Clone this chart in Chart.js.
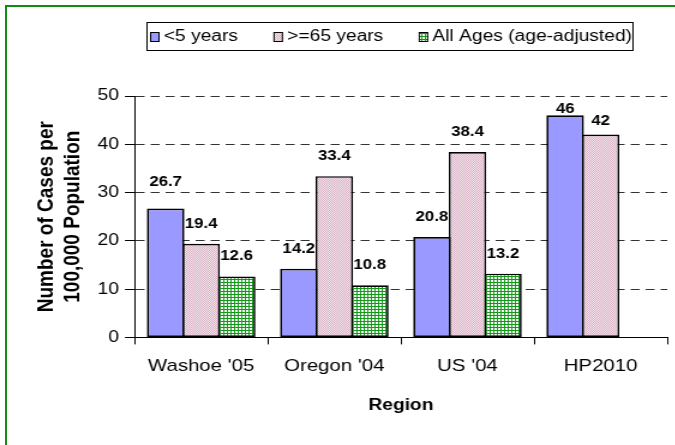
<!DOCTYPE html>
<html>
<head>
<meta charset="utf-8">
<script src="https://cdn.jsdelivr.net/npm/chart.js@4"></script>
<style>
  html, body { margin: 0; padding: 0; background: #fff; overflow: hidden; }
  /* original chart is rendered a little wide, so stretch the canvas sideways */
  #wrap { position: absolute; left: 0; top: 0; width: 562px; height: 445px; transform: scaleX(1.2); transform-origin: 0 0; }
  #frame { position: absolute; left: 5px; top: 5px; width: 720px; height: 520px; border-top: 2px solid #138a13; border-left: 2px solid #138a13; }
</style>
</head>
<body>
<div id="wrap"><canvas id="chart"></canvas></div>
<div id="frame"></div>
<script>
const regions = ["Washoe '05", "Oregon '04", "US '04", "HP2010"];
const seriesNames = ['<5 years', '>=65 years', 'All Ages (age-adjusted)'];
const under5 = [26.7, 14.2, 20.8, 46];
const over65 = [19.4, 33.4, 38.4, 42];
const allAges = [12.6, 10.8, 13.2, null];
const yTicks = [0, 10, 20, 30, 40, 50];

const FONT = '"Liberation Sans", Arial, sans-serif';
const canvas = document.getElementById('chart');
const ctx0 = canvas.getContext('2d');

function makePattern(size, draw) {
  const c = document.createElement('canvas');
  c.width = size;
  c.height = size;
  draw(c.getContext('2d'));
  return ctx0.createPattern(c, 'repeat');
}

// fine pink checker
const pinkFill = makePattern(2, g => {
  g.fillStyle = '#f4e2ea';
  g.fillRect(0, 0, 2, 2);
  g.fillStyle = '#d6b4c5';
  g.fillRect(0, 0, 1, 1);
  g.fillRect(1, 1, 1, 1);
});

// small green grid
const greenFill = makePattern(3, g => {
  g.fillStyle = '#ffffff';
  g.fillRect(0, 0, 3, 3);
  g.fillStyle = '#14981a';
  g.fillRect(0, 0, 3, 1);
  g.fillRect(0, 0, 1, 3);
});

const barLabels = {
  id: 'barLabels',
  afterDatasetsDraw(chart, args, opts) {
    const ctx = chart.ctx;
    ctx.save();
    ctx.font = 'bold 14px ' + FONT;
    ctx.fillStyle = '#000';
    ctx.textAlign = 'center';
    ctx.textBaseline = 'middle';
    chart.data.datasets.forEach((ds, di) => {
      chart.getDatasetMeta(di).data.forEach((bar, i) => {
        const v = ds.data[i];
        if (v == null) return;
        const nudge = opts.lift[di + ':' + i];
        const lift = nudge !== undefined ? nudge : opts.defaultLift;
        ctx.fillText(String(v), bar.x, bar.y - lift);
      });
    });
    ctx.restore();
  }
};

const boxLegend = {
  id: 'boxLegend',
  afterDraw(chart, args, opts) {
    const ctx = chart.ctx;
    ctx.save();
    ctx.font = opts.fontSize + 'px ' + FONT;
    ctx.lineWidth = 1;
    ctx.strokeStyle = '#000';
    ctx.strokeRect(opts.left, opts.top + 0.5, opts.right - opts.left, opts.height);
    let x = opts.left + opts.inset;
    const y = opts.top + opts.height / 2 + 1;
    chart.data.datasets.forEach(ds => {
      ctx.fillStyle = ds.backgroundColor;
      ctx.fillRect(x, y - opts.boxH / 2, opts.boxW, opts.boxH);
      ctx.strokeRect(x, y - opts.boxH / 2, opts.boxW, opts.boxH);
      ctx.fillStyle = '#000';
      ctx.textAlign = 'left';
      ctx.textBaseline = 'middle';
      ctx.fillText(ds.label, x + opts.boxW + opts.gap, y);
      x += opts.boxW + opts.gap + ctx.measureText(ds.label).width + opts.spacing;
    });
    ctx.restore();
  }
};

const barStyle = {
  borderColor: '#000',
  borderWidth: 1.7,
  borderSkipped: false,
  barPercentage: 1.057,
  categoryPercentage: 0.8
};

new Chart(canvas, {
  type: 'bar',
  data: {
    labels: regions,
    datasets: [
      Object.assign({ label: seriesNames[0], data: under5, backgroundColor: '#9999ff' }, barStyle),
      Object.assign({ label: seriesNames[1], data: over65, backgroundColor: pinkFill }, barStyle),
      Object.assign({ label: seriesNames[2], data: allAges, backgroundColor: greenFill }, barStyle)
    ]
  },
  options: {
    responsive: true,
    maintainAspectRatio: false,
    animation: false,
    layout: { padding: { left: 24, right: 6, top: 96, bottom: 26 } },
    scales: {
      x: {
        grid: { offset: true, drawOnChartArea: false, drawTicks: true, tickLength: 7, tickColor: '#000', tickWidth: 1 },
        border: { display: true, color: '#000', width: 1 },
        ticks: { color: '#000', font: { family: FONT, size: 17 }, padding: 12, maxRotation: 0 },
        title: {
          display: true,
          text: 'Region',
          color: '#000',
          font: { family: FONT, size: 16, weight: 'bold' },
          padding: { top: 7, bottom: 4 }
        }
      },
      y: {
        min: 0,
        max: 50,
        afterBuildTicks: axis => { axis.ticks = yTicks.map(v => ({ value: v })); },
        grid: {
          color: c => (c.tick && c.tick.value === 0) ? 'rgba(0,0,0,0)' : '#333',
          lineWidth: 1,
          drawTicks: true,
          tickLength: 8,
          tickColor: '#000',
          tickWidth: 1,
          tickBorderDash: []
        },
        border: { display: true, color: '#000', width: 1, dash: [7.5, 5] },
        ticks: { color: '#000', font: { family: FONT, size: 16 }, padding: 5 },
        title: {
          display: true,
          text: ['Number of Cases per', '100,000 Population'],
          color: '#000',
          font: { family: FONT, size: 19, weight: 'bold', lineHeight: 1.14 },
          padding: { top: 4, bottom: 5 }
        }
      }
    },
    plugins: {
      legend: { display: false },
      tooltip: { enabled: false },
      barLabels: { defaultLift: 20, lift: { '0:0': 26, '0:3': 6, '1:3': 13 } },
      boxLegend: { left: 122.5, right: 527.5, top: 22, height: 28, inset: 3, boxW: 7, boxH: 9, gap: 4, spacing: 30, fontSize: 16 }
    }
  },
  plugins: [barLabels, boxLegend]
});
</script>
</body>
</html>
